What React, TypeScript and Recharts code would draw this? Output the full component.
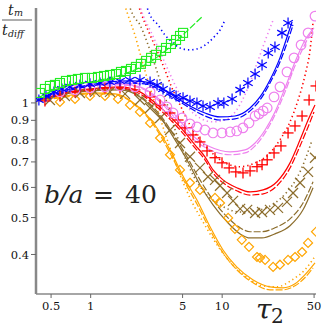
import React from 'react';
import { ComposedChart, Line, Scatter, XAxis, YAxis } from 'recharts';

type Pair = [number, number];

const xTicks = [0.5, 1, 5, 10, 50];
const yTicks = [0.4, 0.5, 0.6, 0.7, 0.8, 0.9, 1];

// green: squares + dashed
const greenSquares: Pair[] = [
  [0.411, 1.062], [0.449, 1.088], [0.49, 1.108], [0.535, 1.115], [0.584, 1.128], [0.649, 1.142],
  [0.721, 1.149], [0.8, 1.156], [0.905, 1.163], [1.023, 1.163], [1.137, 1.17], [1.263, 1.177],
  [1.402, 1.184], [1.558, 1.191], [1.7, 1.206], [1.856, 1.213], [2.026, 1.228], [2.21, 1.243],
  [2.41, 1.266], [2.64, 1.289], [2.88, 1.313], [3.14, 1.337], [3.43, 1.37], [3.74, 1.394],
  [4.08, 1.428], [4.46, 1.463], [4.78, 1.499], [5.04, 1.527],
];
const greenDashed: Pair[] = [
  [0.397, 1.031], [0.584, 1.095], [0.988, 1.135], [1.402, 1.163], [1.991, 1.206], [2.83, 1.281],
  [4.01, 1.403], [5.22, 1.527], [7.02, 1.682],
];

// blue: stars
const blueStars: Pair[] = [
  [0.404, 1.018], [0.457, 1.043], [0.526, 1.069], [0.605, 1.088], [0.696, 1.102], [0.829, 1.115],
  [0.988, 1.122], [1.177, 1.128], [1.402, 1.135], [1.671, 1.142], [1.991, 1.149], [2.37, 1.149],
  [2.83, 1.135], [3.2, 1.115], [3.55, 1.088], [4.01, 1.062], [4.46, 1.043], [5.04, 1.031],
  [5.69, 1.012], [6.43, 1.0], [7.15, 0.982], [8.08, 0.976], [9.3, 1.0], [10.3, 1.0],
  [11.9, 1.024], [13.7, 1.082], [15.7, 1.128], [17.8, 1.191], [20.1, 1.258], [22.4, 1.353],
  [25.2, 1.403], [28.5, 1.527], [31.7, 1.622],
];
const blueSolid: Pair[] = [
  [0.384, 1.012], [0.49, 1.05], [0.696, 1.088], [0.988, 1.115], [1.402, 1.135], [1.991, 1.142],
  [2.59, 1.135], [3.37, 1.095], [4.38, 1.037], [5.69, 0.982], [7.4, 0.941], [9.63, 0.919],
  [12.5, 0.924], [16.3, 0.97], [19.4, 1.037], [23.1, 1.149], [27.5, 1.313], [30.6, 1.463], [34.0, 1.632],
];
const blueDashed: Pair[] = [
  [0.384, 1.012], [0.584, 1.062], [0.988, 1.108], [1.671, 1.128], [2.59, 1.122], [3.37, 1.082],
  [4.38, 1.024], [5.69, 0.97], [7.4, 0.924], [9.63, 0.902], [12.5, 0.908], [16.3, 0.953],
  [19.4, 1.018], [23.1, 1.128], [27.5, 1.281], [31.7, 1.463], [34.6, 1.603],
];
const blueDotted: Pair[] = [
  [2.7, 1.77], [2.83, 1.7], [3.25, 1.603], [3.67, 1.508], [4.15, 1.446], [4.78, 1.394], [5.69, 1.378],
  [6.78, 1.394], [7.8, 1.437], [8.82, 1.499], [9.63, 1.554], [10.5, 1.651],
];

// violet: circles
const violetCircles: Pair[] = [
  [0.584, 1.069], [0.76, 1.082], [0.988, 1.095], [1.285, 1.102], [1.671, 1.108], [2.17, 1.102],
  [2.83, 1.069], [3.37, 1.018], [3.8, 0.976], [4.23, 0.941], [4.95, 0.913], [5.69, 0.881],
  [6.43, 0.865], [7.4, 0.849], [8.52, 0.834], [9.97, 0.834], [11.5, 0.839], [12.9, 0.844],
  [14.4, 0.86], [16.0, 0.886], [17.8, 0.924], [19.1, 0.936], [20.5, 0.953], [22.0, 0.97],
  [24.8, 1.037], [27.5, 1.102], [31.1, 1.206], [35.2, 1.313], [39.8, 1.42], [45.0, 1.527], [50.8, 1.69],
];
const violetSolid: Pair[] = [
  [0.384, 1.012], [0.584, 1.069], [0.988, 1.108], [1.671, 1.122], [2.37, 1.102], [3.37, 1.018],
  [4.38, 0.93], [5.89, 0.824], [8.08, 0.767], [11.5, 0.744], [14.9, 0.753], [17.8, 0.785],
  [21.2, 0.849], [25.2, 0.947], [30.1, 1.095], [35.8, 1.281], [42.7, 1.463], [49.9, 1.574],
];
const violetDashed: Pair[] = [
  [0.384, 1.012], [0.584, 1.062], [0.988, 1.102], [1.671, 1.115], [2.37, 1.095], [3.37, 1.006],
  [4.38, 0.913], [5.89, 0.809], [8.08, 0.753], [11.5, 0.731], [14.9, 0.739], [17.8, 0.771],
  [21.2, 0.834], [25.2, 0.93], [30.1, 1.069], [35.8, 1.251], [42.7, 1.428], [48.3, 1.554],
];
const violetDotted: Pair[] = [
  [2.4, 1.77], [2.5, 1.7], [2.83, 1.554], [3.37, 1.361], [4.01, 1.191], [4.78, 1.05], [5.69, 0.959],
  [6.78, 0.913], [8.37, 0.892], [10.5, 0.902], [12.9, 0.959], [15.7, 1.095], [18.8, 1.297],
  [21.6, 1.481], [24.4, 1.651],
];

// red: plus
const redPlus: Pair[] = [
  [0.449, 1.012], [0.584, 1.043], [0.76, 1.069], [0.988, 1.082], [1.285, 1.095], [1.671, 1.095],
  [2.17, 1.082], [2.83, 1.037], [3.37, 0.988], [4.01, 0.941], [4.62, 0.902], [5.22, 0.86],
  [6.0, 0.824], [6.78, 0.79], [7.67, 0.748], [8.82, 0.718], [9.97, 0.696], [11.3, 0.675],
  [12.7, 0.659], [14.4, 0.655], [16.3, 0.663], [18.4, 0.68], [20.1, 0.688], [22.0, 0.709],
  [24.8, 0.739], [28.0, 0.771], [31.7, 0.834], [35.8, 0.87], [40.5, 0.924], [45.8, 1.018], [51.7, 1.108],
];
const redSolid: Pair[] = [
  [0.384, 1.012], [0.584, 1.056], [0.988, 1.088], [1.671, 1.102], [2.37, 1.069], [3.37, 0.976],
  [4.78, 0.865], [6.21, 0.776], [7.4, 0.722], [8.52, 0.667], [10.15, 0.628], [12.9, 0.599],
  [16.3, 0.584], [20.5, 0.591], [26.1, 0.621], [32.8, 0.696], [39.1, 0.8], [45.0, 0.902], [50.8, 0.988],
];
const redDashed: Pair[] = [
  [0.384, 1.012], [0.584, 1.05], [0.988, 1.082], [1.671, 1.095], [2.37, 1.056], [3.37, 0.959],
  [4.78, 0.849], [6.21, 0.762], [7.4, 0.709], [8.52, 0.655], [10.15, 0.617], [12.9, 0.588],
  [16.3, 0.573], [20.5, 0.577], [26.1, 0.606], [32.8, 0.675], [39.1, 0.771], [45.0, 0.865], [49.9, 0.947],
];
const redDotted: Pair[] = [
  [2.35, 1.77], [2.45, 1.7], [2.83, 1.508], [3.25, 1.353], [3.67, 1.221], [4.15, 1.095], [4.78, 0.988],
  [5.69, 0.875], [6.78, 0.8], [8.37, 0.739], [10.5, 0.696], [13.7, 0.68], [17.8, 0.696],
  [22.4, 0.731], [27.5, 0.8], [32.8, 0.892], [37.8, 1.018], [42.7, 1.184], [46.6, 1.378], [49.1, 1.632],
];

// brown: crosses
const brownCross: Pair[] = [
  [0.49, 1.018], [0.637, 1.043], [0.829, 1.062], [1.078, 1.069], [1.402, 1.069], [1.824, 1.056],
  [2.37, 1.018], [2.83, 0.97], [3.37, 0.913], [4.01, 0.849], [4.78, 0.785], [5.69, 0.722],
  [6.78, 0.675], [7.8, 0.64], [8.82, 0.628], [9.63, 0.606], [10.9, 0.58], [12.1, 0.553],
  [13.7, 0.527], [15.5, 0.524], [17.8, 0.514], [20.1, 0.517], [23.1, 0.524], [26.6, 0.53],
  [31.1, 0.55], [34.6, 0.58], [39.1, 0.617], [45.0, 0.659], [50.8, 0.718],
];
const brownSolid: Pair[] = [
  [0.384, 1.012], [0.584, 1.05], [0.988, 1.075], [1.671, 1.082], [2.37, 1.037], [3.37, 0.919],
  [4.38, 0.8], [5.4, 0.709], [6.78, 0.61], [8.52, 0.54], [10.9, 0.487], [13.7, 0.453],
  [16.3, 0.442], [20.1, 0.442], [25.2, 0.453], [32.8, 0.476], [41.2, 0.524], [49.1, 0.599],
];
const brownDashed: Pair[] = [
  [0.384, 1.012], [0.584, 1.05], [0.988, 1.082], [1.671, 1.088], [2.37, 1.043], [3.37, 0.93],
  [4.38, 0.814], [5.4, 0.722], [6.78, 0.628], [8.52, 0.556], [10.9, 0.502], [13.7, 0.47],
  [16.3, 0.459], [20.1, 0.459], [25.2, 0.47], [32.8, 0.496], [41.2, 0.546], [49.1, 0.621],
];
const brownDotted: Pair[] = [
  [2.0, 1.77], [2.1, 1.7], [2.37, 1.603], [2.68, 1.446], [3.08, 1.258], [3.55, 1.082], [4.15, 0.902],
  [4.95, 0.753], [6.0, 0.647], [7.4, 0.58], [9.63, 0.54], [13.7, 0.517], [19.4, 0.524],
  [25.2, 0.546], [31.1, 0.584], [37.1, 0.636], [42.7, 0.709], [48.3, 0.8],
];

// orange: diamonds
const orangeDiamonds: Pair[] = [
  [0.584, 1.006], [0.76, 1.024], [0.988, 1.043], [1.285, 1.043], [1.614, 1.024], [1.991, 0.988],
  [2.37, 0.947], [2.83, 0.886], [3.37, 0.809], [4.01, 0.731], [4.78, 0.667], [5.69, 0.617],
  [6.78, 0.591], [8.82, 0.563], [9.63, 0.546], [11.1, 0.499], [12.5, 0.467], [14.1, 0.437],
  [16.0, 0.419], [18.4, 0.394], [19.4, 0.392], [21.2, 0.387], [24.4, 0.371], [27.5, 0.376],
  [31.7, 0.387], [35.8, 0.394], [40.5, 0.406], [45.0, 0.429], [51.7, 0.459],
];
const orangeSolid: Pair[] = [
  [0.384, 1.012], [0.584, 1.037], [0.988, 1.062], [1.531, 1.056], [2.17, 0.994], [3.08, 0.875],
  [4.01, 0.753], [5.22, 0.628], [6.43, 0.556], [8.08, 0.473], [10.15, 0.411], [12.9, 0.371],
  [17.2, 0.343], [23.1, 0.329], [29.0, 0.327], [35.8, 0.335], [42.7, 0.354], [50.8, 0.38],
];
const orangeDashed: Pair[] = [
  [0.384, 1.012], [0.584, 1.031], [0.988, 1.056], [1.531, 1.05], [2.17, 0.988], [3.08, 0.865],
  [4.01, 0.739], [5.22, 0.617], [6.43, 0.543], [8.08, 0.464], [10.15, 0.404], [12.9, 0.365],
  [17.2, 0.337], [23.1, 0.323], [29.0, 0.323], [35.8, 0.331], [42.7, 0.348], [49.1, 0.369],
];
const orangeDotted: Pair[] = [
  [1.85, 1.77], [1.922, 1.7], [2.17, 1.508], [2.45, 1.297], [2.83, 1.095], [3.37, 0.913], [4.01, 0.762],
  [4.78, 0.647], [5.69, 0.563], [7.15, 0.487], [9.14, 0.424], [11.5, 0.382], [15.5, 0.348],
  [20.1, 0.331], [26.1, 0.329], [34.0, 0.343], [42.7, 0.365], [49.9, 0.392],
];

const GREEN = '#22ee22';
const BLUE = '#0000ff';
const VIOLET = '#ee82ee';
const RED = '#ff0000';
const BROWN = '#8c6d2c';
const ORANGE = '#ffa500';

const toPts = (a: Pair[]) => a.map(([x, y]) => ({ x, y }));

const SquareMark = (p: any) => (
  <rect x={p.cx - 4.5} y={p.cy - 4.5} width={9} height={9} fill="none" stroke={GREEN} strokeWidth={1.1} />
);
const StarMark = (p: any) => {
  const r = 5.5;
  const a = r * Math.cos(Math.PI / 6);
  const b = r / 2;
  return (
    <g stroke={BLUE} strokeWidth={1.2}>
      <line x1={p.cx} y1={p.cy - r} x2={p.cx} y2={p.cy + r} />
      <line x1={p.cx - a} y1={p.cy - b} x2={p.cx + a} y2={p.cy + b} />
      <line x1={p.cx - a} y1={p.cy + b} x2={p.cx + a} y2={p.cy - b} />
    </g>
  );
};
const CircleMark = (p: any) => <circle cx={p.cx} cy={p.cy} r={4.8} fill="none" stroke={VIOLET} strokeWidth={1.2} />;
const PlusMark = (p: any) => (
  <g stroke={RED} strokeWidth={1.3}>
    <line x1={p.cx - 5.5} y1={p.cy} x2={p.cx + 5.5} y2={p.cy} />
    <line x1={p.cx} y1={p.cy - 5.5} x2={p.cx} y2={p.cy + 5.5} />
  </g>
);
const CrossMark = (p: any) => (
  <g stroke={BROWN} strokeWidth={1.2}>
    <line x1={p.cx - 5} y1={p.cy - 5} x2={p.cx + 5} y2={p.cy + 5} />
    <line x1={p.cx - 5} y1={p.cy + 5} x2={p.cx + 5} y2={p.cy - 5} />
  </g>
);
const DiamondMark = (p: any) => (
  <polygon
    points={`${p.cx},${p.cy - 4.5} ${p.cx + 4.5},${p.cy} ${p.cx},${p.cy + 4.5} ${p.cx - 4.5},${p.cy}`}
    fill="none"
    stroke={ORANGE}
    strokeWidth={1.2}
  />
);

const lines: { data: Pair[]; color: string; kind: 'solid' | 'dashed' | 'dotted' }[] = [
  { data: orangeDotted, color: ORANGE, kind: 'dotted' },
  { data: orangeSolid, color: ORANGE, kind: 'solid' },
  { data: orangeDashed, color: ORANGE, kind: 'dashed' },
  { data: brownDotted, color: BROWN, kind: 'dotted' },
  { data: brownSolid, color: BROWN, kind: 'solid' },
  { data: brownDashed, color: BROWN, kind: 'dashed' },
  { data: redDotted, color: RED, kind: 'dotted' },
  { data: redSolid, color: RED, kind: 'solid' },
  { data: redDashed, color: RED, kind: 'dashed' },
  { data: violetDotted, color: VIOLET, kind: 'dotted' },
  { data: violetSolid, color: VIOLET, kind: 'solid' },
  { data: violetDashed, color: VIOLET, kind: 'dashed' },
  { data: blueDotted, color: BLUE, kind: 'dotted' },
  { data: blueSolid, color: BLUE, kind: 'solid' },
  { data: blueDashed, color: BLUE, kind: 'dashed' },
  { data: greenDashed, color: GREEN, kind: 'dashed' },
];

const dashFor = (k: string) => (k === 'dotted' ? '1.3 3' : k === 'dashed' ? '7 2' : undefined);

// tick text in a serif face, like the LaTeX labels of the original
const TickText = (anchor: 'middle' | 'end', dy: string) => (p: any) => (
  <text
    x={p.x}
    y={p.y}
    dy={dy}
    textAnchor={anchor}
    fill="#111"
    fontSize={11.5}
    fontFamily="DejaVu Serif"
  >
    {p.payload.value}
  </text>
);

export default function App() {
  return (
    <div style={{ position: 'absolute', left: 0, top: 0, width: 327, height: 327, background: '#fff' }}>
      <ComposedChart width={327} height={327} margin={{ top: 8, right: 11, bottom: 0, left: 0 }}>
        <XAxis
          type="number"
          dataKey="x"
          scale="log"
          domain={[0.384, 51.7]}
          allowDataOverflow
          ticks={xTicks}
          interval={0}
          height={33}
          axisLine={{ stroke: '#888', strokeWidth: 1.5 }}
          tickLine={{ stroke: '#666' }}
          tickSize={4}
          tickMargin={3}
          tick={TickText('middle', '0.75em')}
        />
        <YAxis
          type="number"
          dataKey="y"
          scale="log"
          domain={[0.315, 1.775]}
          allowDataOverflow
          ticks={yTicks}
          interval={0}
          width={36}
          axisLine={{ stroke: '#888', strokeWidth: 2.5 }}
          tickLine={{ stroke: '#666' }}
          tickSize={5}
          tickMargin={2}
          tick={TickText('end', '0.35em')}
        />
        {lines.map((l, i) => (
          <Line
            key={`l-${i}`}
            data={toPts(l.data)}
            dataKey="y"
            type="monotone"
            stroke={l.color}
            strokeWidth={l.kind === 'dotted' ? 1.6 : 1.2}
            strokeDasharray={dashFor(l.kind)}
            dot={false}
            activeDot={false}
            isAnimationActive={false}
          />
        ))}
        <Scatter data={toPts(orangeDiamonds)} dataKey="y" shape={DiamondMark} isAnimationActive={false} />
        <Scatter data={toPts(brownCross)} dataKey="y" shape={CrossMark} isAnimationActive={false} />
        <Scatter data={toPts(redPlus)} dataKey="y" shape={PlusMark} isAnimationActive={false} />
        <Scatter data={toPts(violetCircles)} dataKey="y" shape={CircleMark} isAnimationActive={false} />
        <Scatter data={toPts(blueStars)} dataKey="y" shape={StarMark} isAnimationActive={false} />
        <Scatter data={toPts(greenSquares)} dataKey="y" shape={SquareMark} isAnimationActive={false} />
      </ComposedChart>
      <svg width={327} height={327} style={{ position: 'absolute', left: 0, top: 0, pointerEvents: 'none' }}>
        <g fill="#222" fontFamily="DejaVu Serif">
          <text x={8} y={15} fontSize={14} fontStyle="italic">t</text>
          <text x={14} y={16} fontSize={9.5} fontStyle="italic">m</text>
          <line x1={2} y1={20} x2={32} y2={20} stroke="#333" strokeWidth={0.8} />
          <text x={2} y={35} fontSize={14} fontStyle="italic">t</text>
          <text x={8} y={37} fontSize={9.5} fontStyle="italic">diff</text>
          <text x={44} y={203} fontSize={25} fontStyle="italic">b/a</text>
          <text x={93} y={203} fontSize={25}>=</text>
          <text x={125} y={203} fontSize={25}>40</text>
          <text x={256} y={319} fontSize={28} fontStyle="italic">τ</text>
          <text x={271} y={323} fontSize={20}>2</text>
        </g>
      </svg>
    </div>
  );
}
